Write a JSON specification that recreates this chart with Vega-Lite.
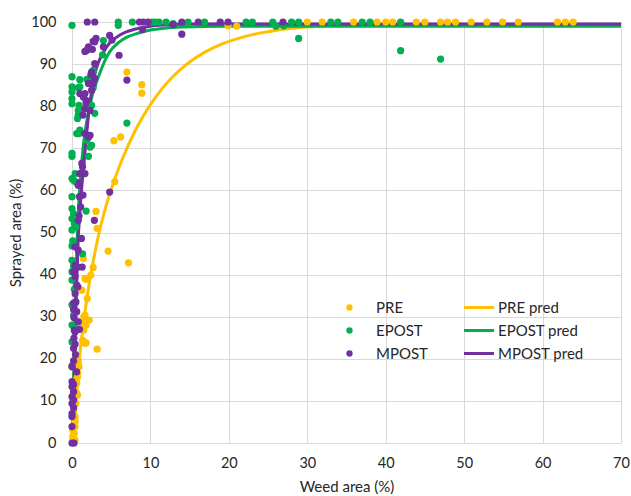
{
  "$schema": "https://vega.github.io/schema/vega-lite/v6.json",
  "autosize": {"type": "none"},
  "width": 549,
  "height": 421,
  "padding": {"left": 72, "top": 22, "right": 10, "bottom": 53},
  "background": "white",
  "config": {
    "view": {"stroke": null},
    "font": "Lato",
    "axis": {
      "grid": true, "gridColor": "#D9D9D9", "gridWidth": 1, "domain": false, "ticks": false,
      "labelFont": "Lato", "labelFontSize": 14.5, "labelColor": "#262626",
      "titleFont": "Lato", "titleFontSize": 15, "titleFontWeight": "normal", "titleColor": "#262626"
    },
    "legend": {
      "labelFont": "Lato", "labelFontSize": 15, "labelColor": "#262626", "padding": 0, "rowPadding": 7
    }
  },
  "datasets": {
    "pred": [
      {"p": "PRE pred", "x": 0.25, "y": 0}, {"p": "PRE pred", "x": 0.45, "y": 7}, {"p": "PRE pred", "x": 0.7, "y": 14.5}, {"p": "PRE pred", "x": 1.0, "y": 21},
      {"p": "PRE pred", "x": 1.5, "y": 29}, {"p": "PRE pred", "x": 2.0, "y": 35.5}, {"p": "PRE pred", "x": 2.5, "y": 41.2}, {"p": "PRE pred", "x": 3.0, "y": 46},
      {"p": "PRE pred", "x": 3.5, "y": 50.3}, {"p": "PRE pred", "x": 4.0, "y": 54}, {"p": "PRE pred", "x": 4.5, "y": 57.3}, {"p": "PRE pred", "x": 5.0, "y": 60.3},
      {"p": "PRE pred", "x": 6.0, "y": 65.5}, {"p": "PRE pred", "x": 7.0, "y": 70}, {"p": "PRE pred", "x": 8.0, "y": 74}, {"p": "PRE pred", "x": 9.0, "y": 77.4},
      {"p": "PRE pred", "x": 10.0, "y": 80.4}, {"p": "PRE pred", "x": 11.0, "y": 83}, {"p": "PRE pred", "x": 12.0, "y": 85.3}, {"p": "PRE pred", "x": 13.0, "y": 87.3},
      {"p": "PRE pred", "x": 14.0, "y": 89}, {"p": "PRE pred", "x": 15.0, "y": 90.5}, {"p": "PRE pred", "x": 17.0, "y": 92.9}, {"p": "PRE pred", "x": 19.0, "y": 94.7},
      {"p": "PRE pred", "x": 21.0, "y": 96}, {"p": "PRE pred", "x": 23.0, "y": 97}, {"p": "PRE pred", "x": 25.0, "y": 97.7}, {"p": "PRE pred", "x": 28.0, "y": 98.5},
      {"p": "PRE pred", "x": 31.0, "y": 99.0}, {"p": "PRE pred", "x": 35.0, "y": 99.3}, {"p": "PRE pred", "x": 40.0, "y": 99.4}, {"p": "PRE pred", "x": 50.0, "y": 99.4},
      {"p": "PRE pred", "x": 70.0, "y": 99.4},
      {"p": "EPOST pred", "x": 0.05, "y": 0}, {"p": "EPOST pred", "x": 0.15, "y": 10}, {"p": "EPOST pred", "x": 0.25, "y": 20}, {"p": "EPOST pred", "x": 0.35, "y": 30},
      {"p": "EPOST pred", "x": 0.5, "y": 40}, {"p": "EPOST pred", "x": 0.65, "y": 48}, {"p": "EPOST pred", "x": 0.8, "y": 55}, {"p": "EPOST pred", "x": 1.0, "y": 61},
      {"p": "EPOST pred", "x": 1.25, "y": 67}, {"p": "EPOST pred", "x": 1.5, "y": 71.5}, {"p": "EPOST pred", "x": 1.8, "y": 75.5}, {"p": "EPOST pred", "x": 2.2, "y": 79.5},
      {"p": "EPOST pred", "x": 2.5, "y": 82}, {"p": "EPOST pred", "x": 2.9, "y": 84.5}, {"p": "EPOST pred", "x": 3.6, "y": 88.1}, {"p": "EPOST pred", "x": 4.2, "y": 90.8},
      {"p": "EPOST pred", "x": 4.8, "y": 92.9}, {"p": "EPOST pred", "x": 6.0, "y": 95.2}, {"p": "EPOST pred", "x": 7.0, "y": 96.4}, {"p": "EPOST pred", "x": 8.5, "y": 97.4},
      {"p": "EPOST pred", "x": 10.0, "y": 98.1}, {"p": "EPOST pred", "x": 11.2, "y": 98.4}, {"p": "EPOST pred", "x": 14.0, "y": 98.8}, {"p": "EPOST pred", "x": 20.0, "y": 99.0},
      {"p": "EPOST pred", "x": 70.0, "y": 99.0},
      {"p": "MPOST pred", "x": 0.1, "y": 0}, {"p": "MPOST pred", "x": 0.2, "y": 8}, {"p": "MPOST pred", "x": 0.3, "y": 16}, {"p": "MPOST pred", "x": 0.4, "y": 24},
      {"p": "MPOST pred", "x": 0.5, "y": 31}, {"p": "MPOST pred", "x": 0.6, "y": 38}, {"p": "MPOST pred", "x": 0.7, "y": 43}, {"p": "MPOST pred", "x": 0.8, "y": 49},
      {"p": "MPOST pred", "x": 0.95, "y": 53}, {"p": "MPOST pred", "x": 1.1, "y": 57.5}, {"p": "MPOST pred", "x": 1.25, "y": 61}, {"p": "MPOST pred", "x": 1.45, "y": 65},
      {"p": "MPOST pred", "x": 1.65, "y": 69}, {"p": "MPOST pred", "x": 1.9, "y": 74}, {"p": "MPOST pred", "x": 2.2, "y": 79.5}, {"p": "MPOST pred", "x": 2.5, "y": 83.5},
      {"p": "MPOST pred", "x": 2.7, "y": 85.8}, {"p": "MPOST pred", "x": 3.0, "y": 88.3}, {"p": "MPOST pred", "x": 3.35, "y": 90.3}, {"p": "MPOST pred", "x": 4.0, "y": 92.8},
      {"p": "MPOST pred", "x": 4.8, "y": 95}, {"p": "MPOST pred", "x": 6.0, "y": 96.8}, {"p": "MPOST pred", "x": 7.0, "y": 97.7}, {"p": "MPOST pred", "x": 8.5, "y": 98.5},
      {"p": "MPOST pred", "x": 10.0, "y": 99.0}, {"p": "MPOST pred", "x": 12.0, "y": 99.3}, {"p": "MPOST pred", "x": 15.0, "y": 99.5}, {"p": "MPOST pred", "x": 20.0, "y": 99.5},
      {"p": "MPOST pred", "x": 70.0, "y": 99.5}
    ],
    "pts": [
      {"s": "PRE", "x": 30.0, "y": 100}, {"s": "PRE", "x": 31.9, "y": 100}, {"s": "PRE", "x": 35.9, "y": 100}, {"s": "PRE", "x": 38.9, "y": 100},
      {"s": "PRE", "x": 40.0, "y": 100}, {"s": "PRE", "x": 40.9, "y": 100}, {"s": "PRE", "x": 43.9, "y": 100}, {"s": "PRE", "x": 45.0, "y": 100},
      {"s": "PRE", "x": 47.0, "y": 100}, {"s": "PRE", "x": 47.9, "y": 100}, {"s": "PRE", "x": 48.9, "y": 100}, {"s": "PRE", "x": 50.9, "y": 100},
      {"s": "PRE", "x": 52.9, "y": 100}, {"s": "PRE", "x": 54.9, "y": 100}, {"s": "PRE", "x": 56.9, "y": 100}, {"s": "PRE", "x": 61.9, "y": 100},
      {"s": "PRE", "x": 62.9, "y": 100}, {"s": "PRE", "x": 63.9, "y": 100}, {"s": "PRE", "x": 19.9, "y": 99.1}, {"s": "PRE", "x": 21.0, "y": 99.0},
      {"s": "PRE", "x": 7.0, "y": 88.1}, {"s": "PRE", "x": 8.9, "y": 85.1}, {"s": "PRE", "x": 8.9, "y": 83.1}, {"s": "PRE", "x": 5.35, "y": 71.8},
      {"s": "PRE", "x": 6.2, "y": 72.7}, {"s": "PRE", "x": 5.45, "y": 62.1}, {"s": "PRE", "x": 3.06, "y": 55.0}, {"s": "PRE", "x": 3.2, "y": 51.0},
      {"s": "PRE", "x": 4.6, "y": 45.6}, {"s": "PRE", "x": 7.2, "y": 42.8}, {"s": "PRE", "x": 1.45, "y": 43.8}, {"s": "PRE", "x": 2.7, "y": 41.7},
      {"s": "PRE", "x": 2.4, "y": 39.9}, {"s": "PRE", "x": 1.8, "y": 38.9}, {"s": "PRE", "x": 1.65, "y": 39.1}, {"s": "PRE", "x": 1.25, "y": 36.3},
      {"s": "PRE", "x": 1.95, "y": 34.3}, {"s": "PRE", "x": 1.65, "y": 30.4}, {"s": "PRE", "x": 2.2, "y": 29.2}, {"s": "PRE", "x": 1.5, "y": 30.0},
      {"s": "PRE", "x": 1.8, "y": 28.0}, {"s": "PRE", "x": 1.2, "y": 28.5}, {"s": "PRE", "x": 1.5, "y": 26.8}, {"s": "PRE", "x": 1.35, "y": 24.4},
      {"s": "PRE", "x": 1.8, "y": 23.8}, {"s": "PRE", "x": 1.65, "y": 23.7}, {"s": "PRE", "x": 3.2, "y": 22.3}, {"s": "PRE", "x": 0.8, "y": 19.7},
      {"s": "PRE", "x": 0.9, "y": 18.1}, {"s": "PRE", "x": 0.8, "y": 18.9}, {"s": "PRE", "x": 0.7, "y": 16.5}, {"s": "PRE", "x": 0.7, "y": 15.7},
      {"s": "PRE", "x": 0.5, "y": 15.0}, {"s": "PRE", "x": 0.6, "y": 14.2}, {"s": "PRE", "x": 0.6, "y": 11.8}, {"s": "PRE", "x": 0.7, "y": 11.4},
      {"s": "PRE", "x": 0.5, "y": 9.4}, {"s": "PRE", "x": 0.4, "y": 6.2}, {"s": "PRE", "x": 0.4, "y": 5.1}, {"s": "PRE", "x": 0.4, "y": 3.9},
      {"s": "PRE", "x": 0.1, "y": 3.1}, {"s": "PRE", "x": 0.3, "y": 2.3}, {"s": "PRE", "x": 0.1, "y": 1.5}, {"s": "PRE", "x": 0.1, "y": 0.7},
      {"s": "PRE", "x": 0.4, "y": 0.7},
      {"s": "EPOST", "x": 0.0, "y": 99.2}, {"s": "EPOST", "x": 5.9, "y": 100}, {"s": "EPOST", "x": 5.9, "y": 99.2}, {"s": "EPOST", "x": 7.7, "y": 100},
      {"s": "EPOST", "x": 10.2, "y": 100}, {"s": "EPOST", "x": 10.6, "y": 100}, {"s": "EPOST", "x": 11.1, "y": 100}, {"s": "EPOST", "x": 12.0, "y": 100},
      {"s": "EPOST", "x": 12.9, "y": 99.6}, {"s": "EPOST", "x": 14.8, "y": 100}, {"s": "EPOST", "x": 16.9, "y": 100}, {"s": "EPOST", "x": 22.2, "y": 100},
      {"s": "EPOST", "x": 23.0, "y": 100}, {"s": "EPOST", "x": 25.6, "y": 100}, {"s": "EPOST", "x": 26.0, "y": 99.0}, {"s": "EPOST", "x": 27.0, "y": 99.1},
      {"s": "EPOST", "x": 28.0, "y": 100}, {"s": "EPOST", "x": 28.9, "y": 100}, {"s": "EPOST", "x": 33.0, "y": 100}, {"s": "EPOST", "x": 33.9, "y": 100},
      {"s": "EPOST", "x": 37.0, "y": 100}, {"s": "EPOST", "x": 38.0, "y": 100}, {"s": "EPOST", "x": 41.9, "y": 100},
      {"s": "EPOST", "x": 28.9, "y": 96.1}, {"s": "EPOST", "x": 41.9, "y": 93.2}, {"s": "EPOST", "x": 47.0, "y": 91.2},
      {"s": "EPOST", "x": 4.0, "y": 95.6}, {"s": "EPOST", "x": 3.9, "y": 92.2}, {"s": "EPOST", "x": 7.0, "y": 76.0},
      {"s": "EPOST", "x": 0.0, "y": 87.0}, {"s": "EPOST", "x": 1.0, "y": 86.3}, {"s": "EPOST", "x": 1.9, "y": 86.4}, {"s": "EPOST", "x": 2.1, "y": 86.3},
      {"s": "EPOST", "x": 2.7, "y": 88.5}, {"s": "EPOST", "x": 2.7, "y": 85.0}, {"s": "EPOST", "x": 2.7, "y": 84.4}, {"s": "EPOST", "x": 0.0, "y": 84.6},
      {"s": "EPOST", "x": 1.0, "y": 84.6}, {"s": "EPOST", "x": 0.8, "y": 84.4}, {"s": "EPOST", "x": 0.0, "y": 83.4}, {"s": "EPOST", "x": 0.0, "y": 81.8},
      {"s": "EPOST", "x": 0.0, "y": 80.6}, {"s": "EPOST", "x": 0.9, "y": 80.2}, {"s": "EPOST", "x": 1.9, "y": 79.8}, {"s": "EPOST", "x": 2.5, "y": 80.2},
      {"s": "EPOST", "x": 1.2, "y": 78.8}, {"s": "EPOST", "x": 0.8, "y": 79.0}, {"s": "EPOST", "x": 2.9, "y": 78.3}, {"s": "EPOST", "x": 0.8, "y": 77.9},
      {"s": "EPOST", "x": 0.7, "y": 77.1}, {"s": "EPOST", "x": 0.9, "y": 73.5}, {"s": "EPOST", "x": 0.6, "y": 73.5}, {"s": "EPOST", "x": 1.0, "y": 74.3},
      {"s": "EPOST", "x": 1.95, "y": 73.1}, {"s": "EPOST", "x": 2.3, "y": 70.3}, {"s": "EPOST", "x": 1.9, "y": 71.9}, {"s": "EPOST", "x": 2.5, "y": 70.7},
      {"s": "EPOST", "x": 2.1, "y": 68.1}, {"s": "EPOST", "x": 0.0, "y": 68.8}, {"s": "EPOST", "x": 0.0, "y": 68.1}, {"s": "EPOST", "x": 0.0, "y": 62.8},
      {"s": "EPOST", "x": 0.2, "y": 62.4}, {"s": "EPOST", "x": 0.5, "y": 62.0}, {"s": "EPOST", "x": 0.4, "y": 64.0}, {"s": "EPOST", "x": 0.0, "y": 58.5},
      {"s": "EPOST", "x": 1.8, "y": 55.1}, {"s": "EPOST", "x": 0.0, "y": 55.7}, {"s": "EPOST", "x": 0.2, "y": 54.5}, {"s": "EPOST", "x": 0.0, "y": 53.3},
      {"s": "EPOST", "x": 0.3, "y": 52.1}, {"s": "EPOST", "x": 0.0, "y": 50.6}, {"s": "EPOST", "x": 0.5, "y": 51.3}, {"s": "EPOST", "x": 0.0, "y": 46.8},
      {"s": "EPOST", "x": 0.1, "y": 48.0}, {"s": "EPOST", "x": 1.35, "y": 44.9}, {"s": "EPOST", "x": 0.0, "y": 43.4}, {"s": "EPOST", "x": 0.2, "y": 42.0},
      {"s": "EPOST", "x": 0.0, "y": 40.7}, {"s": "EPOST", "x": 0.0, "y": 38.7}, {"s": "EPOST", "x": 0.3, "y": 36.5}, {"s": "EPOST", "x": 0.0, "y": 32.8},
      {"s": "EPOST", "x": 0.2, "y": 30.4}, {"s": "EPOST", "x": 0.0, "y": 28.0}, {"s": "EPOST", "x": 0.3, "y": 27.5}, {"s": "EPOST", "x": 0.0, "y": 24.0},
      {"s": "EPOST", "x": 0.0, "y": 18.3},
      {"s": "MPOST", "x": 1.95, "y": 100}, {"s": "MPOST", "x": 2.9, "y": 100}, {"s": "MPOST", "x": 8.6, "y": 100}, {"s": "MPOST", "x": 9.1, "y": 100},
      {"s": "MPOST", "x": 9.7, "y": 100}, {"s": "MPOST", "x": 14.0, "y": 100}, {"s": "MPOST", "x": 16.1, "y": 100}, {"s": "MPOST", "x": 18.9, "y": 100},
      {"s": "MPOST", "x": 19.9, "y": 100}, {"s": "MPOST", "x": 26.9, "y": 100}, {"s": "MPOST", "x": 12.9, "y": 99.4}, {"s": "MPOST", "x": 14.0, "y": 97.1},
      {"s": "MPOST", "x": 9.0, "y": 98.2}, {"s": "MPOST", "x": 6.0, "y": 92.1}, {"s": "MPOST", "x": 7.0, "y": 86.2}, {"s": "MPOST", "x": 4.8, "y": 96.8},
      {"s": "MPOST", "x": 5.1, "y": 95.7}, {"s": "MPOST", "x": 4.0, "y": 94.1}, {"s": "MPOST", "x": 3.06, "y": 96.1}, {"s": "MPOST", "x": 2.7, "y": 95.4},
      {"s": "MPOST", "x": 2.9, "y": 95.3}, {"s": "MPOST", "x": 2.1, "y": 94.1}, {"s": "MPOST", "x": 1.9, "y": 93.3}, {"s": "MPOST", "x": 2.6, "y": 93.5},
      {"s": "MPOST", "x": 1.65, "y": 93.0}, {"s": "MPOST", "x": 2.9, "y": 90.1}, {"s": "MPOST", "x": 2.5, "y": 88.1}, {"s": "MPOST", "x": 2.4, "y": 87.5},
      {"s": "MPOST", "x": 2.9, "y": 86.6}, {"s": "MPOST", "x": 2.7, "y": 85.4}, {"s": "MPOST", "x": 2.1, "y": 85.4}, {"s": "MPOST", "x": 1.0, "y": 83.0},
      {"s": "MPOST", "x": 1.65, "y": 83.0}, {"s": "MPOST", "x": 2.5, "y": 83.8}, {"s": "MPOST", "x": 1.45, "y": 82.2}, {"s": "MPOST", "x": 1.8, "y": 81.4},
      {"s": "MPOST", "x": 1.8, "y": 80.8}, {"s": "MPOST", "x": 1.65, "y": 79.4}, {"s": "MPOST", "x": 2.3, "y": 79.0}, {"s": "MPOST", "x": 1.4, "y": 77.9},
      {"s": "MPOST", "x": 1.65, "y": 73.5}, {"s": "MPOST", "x": 2.1, "y": 72.7}, {"s": "MPOST", "x": 2.3, "y": 73.1}, {"s": "MPOST", "x": 1.25, "y": 66.4},
      {"s": "MPOST", "x": 1.35, "y": 65.6}, {"s": "MPOST", "x": 1.0, "y": 64.0}, {"s": "MPOST", "x": 1.65, "y": 64.0}, {"s": "MPOST", "x": 0.95, "y": 61.8},
      {"s": "MPOST", "x": 0.8, "y": 61.2}, {"s": "MPOST", "x": 1.4, "y": 58.9}, {"s": "MPOST", "x": 0.95, "y": 58.5}, {"s": "MPOST", "x": 4.8, "y": 59.6},
      {"s": "MPOST", "x": 1.1, "y": 56.1}, {"s": "MPOST", "x": 0.9, "y": 53.9}, {"s": "MPOST", "x": 0.8, "y": 52.9}, {"s": "MPOST", "x": 2.85, "y": 52.9},
      {"s": "MPOST", "x": 1.2, "y": 48.6}, {"s": "MPOST", "x": 0.4, "y": 46.6}, {"s": "MPOST", "x": 0.8, "y": 45.8}, {"s": "MPOST", "x": 0.4, "y": 42.2},
      {"s": "MPOST", "x": 0.75, "y": 41.8}, {"s": "MPOST", "x": 1.3, "y": 41.8}, {"s": "MPOST", "x": 0.5, "y": 41.8}, {"s": "MPOST", "x": 0.2, "y": 40.6},
      {"s": "MPOST", "x": 0.4, "y": 39.5}, {"s": "MPOST", "x": 0.75, "y": 37.1}, {"s": "MPOST", "x": 0.6, "y": 37.5}, {"s": "MPOST", "x": 0.5, "y": 33.5},
      {"s": "MPOST", "x": 0.4, "y": 35.5}, {"s": "MPOST", "x": 0.2, "y": 33.2}, {"s": "MPOST", "x": 0.2, "y": 31.7}, {"s": "MPOST", "x": 0.6, "y": 31.2},
      {"s": "MPOST", "x": 0.25, "y": 29.8}, {"s": "MPOST", "x": 0.8, "y": 28.8}, {"s": "MPOST", "x": 0.3, "y": 26.8}, {"s": "MPOST", "x": 0.95, "y": 27.0},
      {"s": "MPOST", "x": 0.4, "y": 26.4}, {"s": "MPOST", "x": 0.25, "y": 24.9}, {"s": "MPOST", "x": 0.2, "y": 22.5}, {"s": "MPOST", "x": 0.4, "y": 23.5},
      {"s": "MPOST", "x": 0.45, "y": 21.0}, {"s": "MPOST", "x": 0.2, "y": 19.5}, {"s": "MPOST", "x": 0.0, "y": 18.1}, {"s": "MPOST", "x": 0.6, "y": 16.9},
      {"s": "MPOST", "x": 0.0, "y": 14.6}, {"s": "MPOST", "x": 0.2, "y": 13.9}, {"s": "MPOST", "x": 0.0, "y": 13.4}, {"s": "MPOST", "x": 0.2, "y": 12.2},
      {"s": "MPOST", "x": 0.0, "y": 11.0}, {"s": "MPOST", "x": 0.2, "y": 10.2}, {"s": "MPOST", "x": 0.0, "y": 9.4}, {"s": "MPOST", "x": 0.2, "y": 8.4},
      {"s": "MPOST", "x": 0.0, "y": 7.0}, {"s": "MPOST", "x": 0.0, "y": 6.3}, {"s": "MPOST", "x": 0.0, "y": 3.9}, {"s": "MPOST", "x": 0.0, "y": 0},
      {"s": "MPOST", "x": 0.25, "y": 0}
    ]
  },
  "layer": [
    {
      "data": {"name": "pred"},
      "mark": {"type": "line", "strokeWidth": 3, "interpolate": "monotone"},
      "encoding": {
        "x": {"field": "x", "type": "quantitative", "scale": {"domain": [0, 70], "nice": false},
              "axis": {"values": [0, 10, 20, 30, 40, 50, 60, 70], "title": "Weed area (%)", "labelPadding": 13, "titlePadding": 10, "labelFlush": false}},
        "y": {"field": "y", "type": "quantitative", "scale": {"domain": [0, 100], "nice": false},
              "axis": {"values": [0, 10, 20, 30, 40, 50, 60, 70, 80, 90, 100], "title": "Sprayed area (%)", "labelPadding": 16, "titlePadding": 7}},
        "color": {"field": "p", "type": "nominal",
                  "scale": {"domain": ["PRE pred", "EPOST pred", "MPOST pred"], "range": ["#FFC000", "#00B050", "#7030A0"]},
                  "legend": {"title": null, "orient": "none", "legendX": 399.5, "legendY": 278, "symbolType": "M-3,0H3", "symbolSize": 100, "symbolStrokeWidth": 3, "labelOffset": 11.5}}
      }
    },
    {
      "data": {"name": "pts"},
      "mark": {"type": "circle", "size": 52, "opacity": 1},
      "encoding": {
        "x": {"field": "x", "type": "quantitative"},
        "y": {"field": "y", "type": "quantitative"},
        "color": {"field": "s", "type": "nominal", "sort": null,
                  "scale": {"domain": ["PRE", "EPOST", "MPOST"], "range": ["#FFC000", "#00B050", "#7030A0"]},
                  "legend": {"title": null, "orient": "none", "legendX": 270, "legendY": 278, "symbolType": "circle", "symbolSize": 40, "labelOffset": 19, "symbolOpacity": 1}}
      }
    }
  ],
  "resolve": {"scale": {"color": "independent"}}
}
